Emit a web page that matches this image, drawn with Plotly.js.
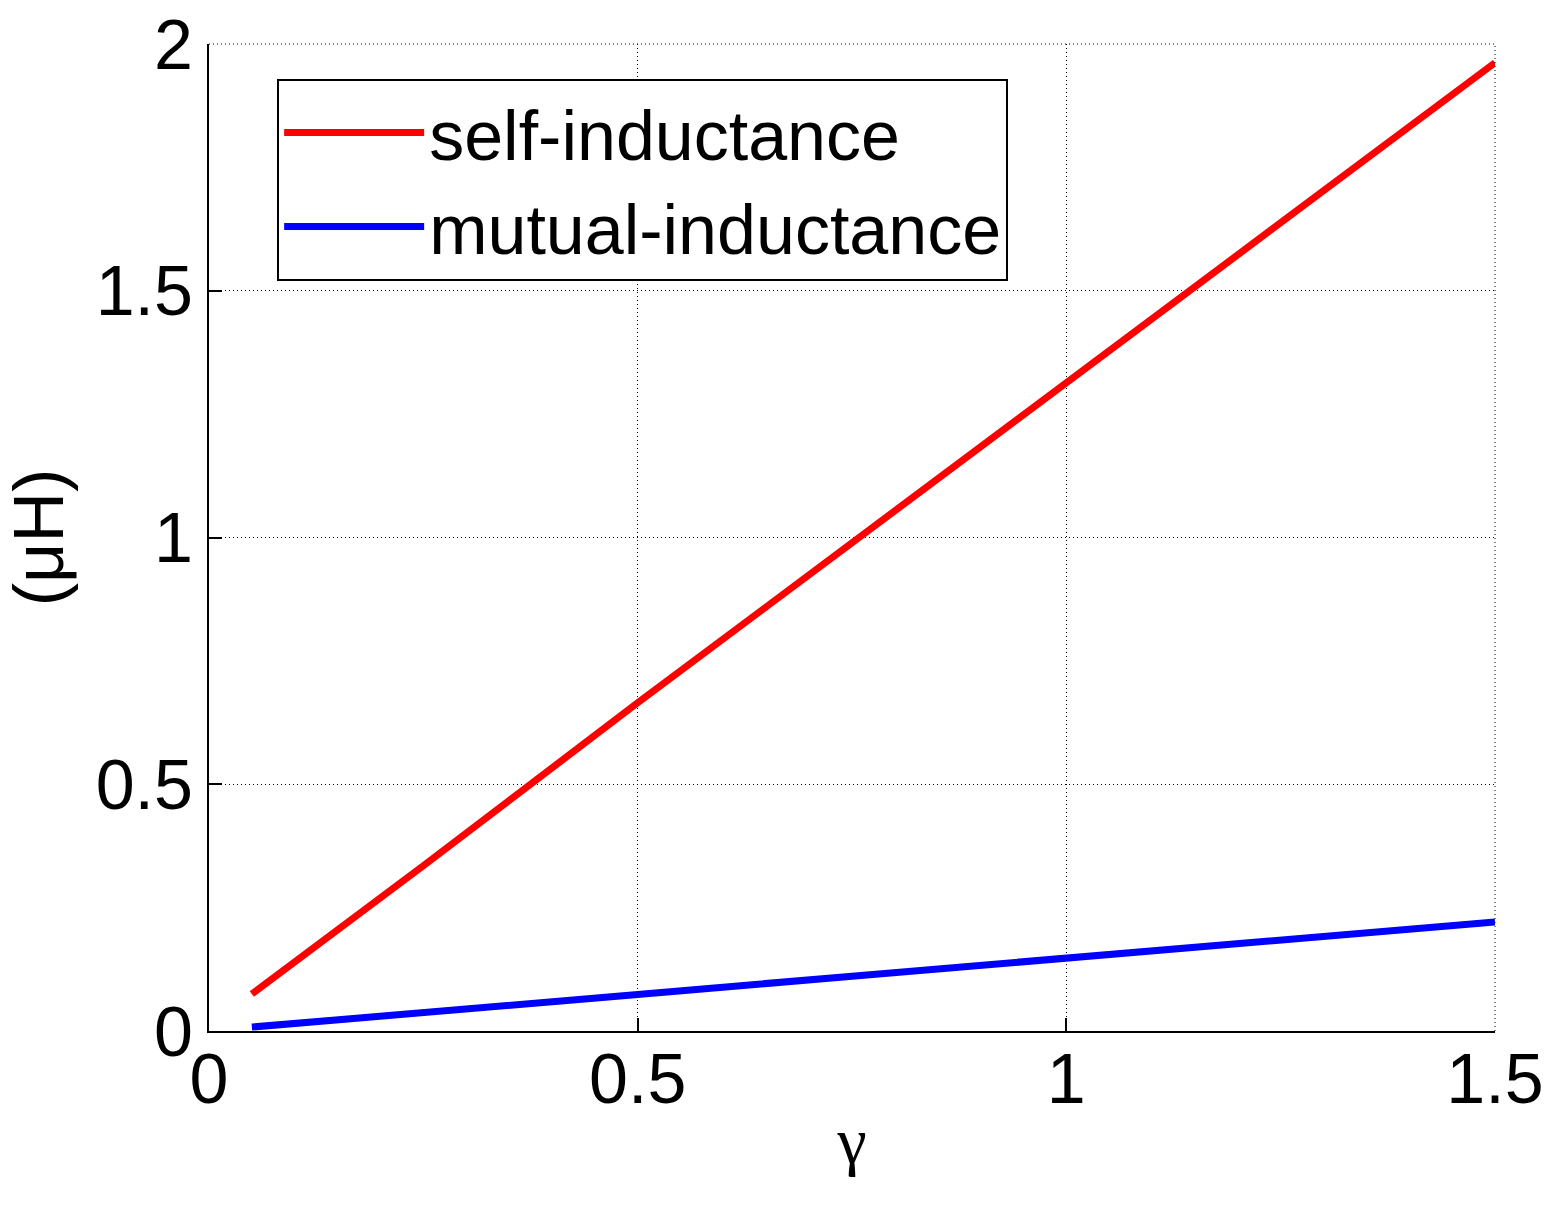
<!DOCTYPE html>
<html lang="en">
<head>
    <meta charset="UTF-8">
    <title>Inductance vs gamma</title>
    <script src="https://cdn.plot.ly/plotly-3.0.1.min.js"></script>
    <style>
        body { margin: 0; background: #fff; }
        #chart { width: 1558px; height: 1209px; }
    </style>
</head>
<body>
    <div id="chart"></div>
    <script>
        // values
        const gamma = [0.05, 0.25, 0.5, 0.75, 1.0, 1.25, 1.5];
        const selfInd = [0.075, 0.335, 0.665, 0.99, 1.315, 1.64, 1.962];
        const mutualInd = [0.008, 0.036, 0.074, 0.111, 0.148, 0.185, 0.221];

        const xTicks = [0, 0.5, 1, 1.5];
        const yTicks = [0, 0.5, 1, 1.5, 2];

        const font = 'Liberation Sans, Arial, sans-serif';

        const traces = [
            {
                x: gamma, y: selfInd, name: 'self-inductance',
                type: 'scatter', mode: 'lines',
                line: { color: '#ff0000', width: 7 }
            },
            {
                x: gamma, y: mutualInd, name: 'mutual-inductance',
                type: 'scatter', mode: 'lines',
                line: { color: '#0000ff', width: 7 }
            }
        ];

        const axisCommon = {
            showline: true, linecolor: '#000', linewidth: 2,
            ticks: 'inside', ticklen: 13, tickwidth: 2, tickcolor: '#000',
            showgrid: true, gridcolor: '#000', gridwidth: 1, griddash: '1px,3px',
            zeroline: false,
            tickfont: { family: font, size: 70, color: '#000' },
            mirror: false,
            automargin: false
        };

        const layout = {
            width: 1558, height: 1209,
            margin: { l: 209, r: 63, t: 44, b: 178 },
            paper_bgcolor: '#fff', plot_bgcolor: '#fff',
            showlegend: true,
            legend: {
                x: 0.053, y: 0.965, xanchor: 'left', yanchor: 'top',
                bgcolor: '#fff', bordercolor: '#000', borderwidth: 2,
                font: { family: font, size: 70, color: '#000' },
                itemwidth: 140
            },
            xaxis: Object.assign({}, axisCommon, {
                range: [0, 1.5], tickvals: xTicks, ticktext: xTicks.map(String),
                ticklabelstandoff: -14,
                title: { text: 'γ', standoff: 0, font: { family: 'Liberation Serif, Times New Roman, serif', size: 66, color: '#000' } }
            }),
            yaxis: Object.assign({}, axisCommon, {
                range: [0, 2], tickvals: yTicks, ticktext: yTicks.map(String),
                ticklabelstandoff: 0,
                title: { text: '(μH)', standoff: 10, font: { family: font, size: 70, color: '#000' } }
            }),
            shapes: [
                // dotted frame on top and right (grid lines at the range ends)
                { type: 'line', xref: 'paper', yref: 'paper', x0: 0, x1: 1, y0: 1, y1: 1,
                  line: { color: '#000', width: 1, dash: '1px,3px' } },
                { type: 'line', xref: 'paper', yref: 'paper', x0: 1, x1: 1, y0: 0, y1: 1,
                  line: { color: '#000', width: 1, dash: '1px,3px' } }
            ]
        };

        Plotly.newPlot('chart', traces, layout, { displayModeBar: false, staticPlot: true });
    </script>
</body>
</html>
